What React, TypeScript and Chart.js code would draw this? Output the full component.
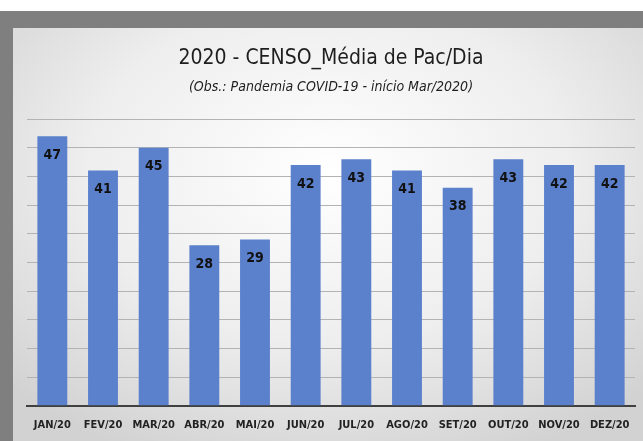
import React, { useEffect, useRef } from "react";
import { Chart, registerables } from "chart.js";

Chart.register(...registerables);

const categories = ["JAN/20", "FEV/20", "MAR/20", "ABR/20", "MAI/20", "JUN/20", "JUL/20", "AGO/20", "SET/20", "OUT/20", "NOV/20", "DEZ/20"];
const values = [47, 41, 45, 28, 29, 42, 43, 41, 38, 43, 42, 42];
const titleText = "2020 - CENSO_Média de Pac/Dia";
const subtitleText = "(Obs.: Pandemia COVID-19 - início Mar/2020)";

const FONT = "'Liberation Sans Narrow', 'DejaVu Sans Condensed', 'Roboto', sans-serif";

const valueLabels = {
  id: "valueLabels",
  afterDatasetsDraw(chart: any) {
    const ctx = chart.ctx;
    const meta = chart.getDatasetMeta(0);
    ctx.save();
    ctx.font = `bold 14px ${FONT}`;
    ctx.fillStyle = "#111111";
    ctx.textAlign = "center";
    ctx.textBaseline = "middle";
    meta.data.forEach((bar: any, i: number) => {
      ctx.fillText(String(values[i]), bar.x, bar.y + 19);
    });
    ctx.restore();
  },
};

export default function App() {
  const ref = useRef<HTMLCanvasElement>(null);
  useEffect(() => {
    const chart = new Chart(ref.current!, {
      type: "bar",
      data: {
        labels: categories,
        datasets: [
          {
            data: values,
            backgroundColor: "#5B80CC",
            barPercentage: 0.59,
            categoryPercentage: 1,
          },
        ],
      },
      options: {
        animation: false,
        responsive: false,
        maintainAspectRatio: false,
        layout: { padding: { left: 14, right: 8, top: 0, bottom: -4 } },
        plugins: {
          legend: { display: false },
          tooltip: { enabled: false },
          title: {
            display: true,
            text: titleText,
            color: "#1e1e1e",
            font: { family: FONT, size: 21, weight: "500" },
            padding: { top: 18, bottom: 0 },
          },
          subtitle: {
            display: true,
            text: subtitleText,
            color: "#1e1e1e",
            font: { family: FONT, size: 14, style: "italic", weight: "normal" },
            padding: { top: 8, bottom: 23 },
          },
        },
        scales: {
          x: {
            grid: { display: false, drawTicks: false },
            border: { display: true, color: "#404040", width: 2 },
            ticks: {
              color: "#222222",
              font: { family: FONT, size: 11, weight: "bold" },
              padding: 13,
              maxRotation: 0,
              minRotation: 0,
              autoSkip: false,
            },
          },
          y: {
            min: 0,
            max: 50,
            ticks: { display: false, stepSize: 5 },
            grid: { color: "#b3b3b3", drawTicks: false, lineWidth: 1 },
            border: { display: false },
          },
        },
      },
      plugins: [valueLabels],
    });
    return () => chart.destroy();
  }, []);

  return (
    <div style={{ position: "absolute", left: 0, top: 0, width: 643, height: 441, background: "#ffffff", overflow: "hidden" }}>
      <div style={{ position: "absolute", left: 0, top: 11, width: 643, height: 430, background: "#7f7f7f" }} />
      <div
        style={{
          position: "absolute",
          left: 13,
          top: 28,
          width: 630,
          height: 413,
          background: "radial-gradient(ellipse 70% 75% at 50% 35%, #ffffff 0%, #eeeeee 55%, #d2d2d2 100%)",
        }}
      >
        <canvas ref={ref} width={630} height={413} style={{ display: "block" }} />
      </div>
    </div>
  );
}
